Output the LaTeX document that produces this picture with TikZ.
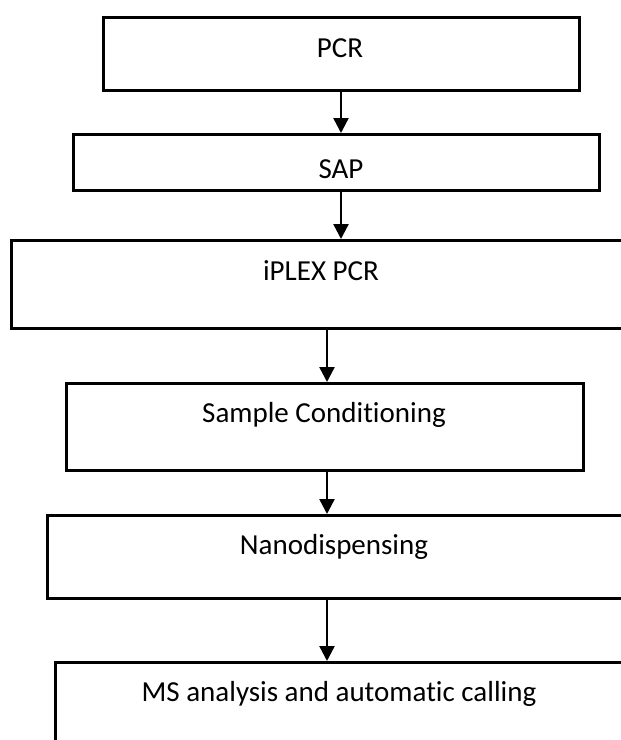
\documentclass[tikz,border=0pt]{standalone}
\usepackage{fontspec}
\setmainfont{Carlito}[RawFeature=-liga]
\usetikzlibrary{arrows.meta}

\tikzset{
	stepbox/.style={draw=black, line width=2.8pt, rectangle, anchor=north west, inner sep=0pt},
	steptext/.style={anchor=base, inner sep=0pt, font=\fontsize{29}{35}\selectfont},
	flow/.style={line width=2.4pt, -{Triangle[length=15pt, width=15pt]}}
}

\begin{document}
\begin{tikzpicture}[x=1pt, y=-1pt]
			%%%%% START %%%%%
			\useasboundingbox (0, 0) rectangle (621, 740);
			\clip (0, 0) rectangle (621, 740);
			
			% the six steps, top to bottom
			\node[stepbox, minimum width=476pt, minimum height=73pt] (pcr) at (102, 16) {};
			\node[stepbox, minimum width=526pt, minimum height=56pt] (sap) at (72, 133) {};
			\node[stepbox, minimum width=640pt, minimum height=88pt] (iplex) at (10, 239) {};
			\node[stepbox, minimum width=517pt, minimum height=87pt] (cond) at (65, 382) {};
			\node[stepbox, minimum width=600pt, minimum height=83pt] (nano) at (46, 514) {};
			\node[stepbox, minimum width=600pt, minimum height=110pt] (ms) at (54, 661) {};
			
			\node[steptext] (pcrtxt) at (340, 57) {PCR};
			\node[steptext] (saptxt) at (341, 178) {SAP};
			\node[steptext] (iplextxt) at (321, 280) {iPLEX PCR};
			\node[steptext] (condtxt) at (324, 422) {Sample Conditioning};
			\node[steptext] (nanotxt) at (334, 554) {Nanodispensing};
			\node[steptext] (mstxt) at (339, 701) {MS analysis and automatic calling};
			
			% arrows run down two spines
			\coordinate (upper) at (341, 0);
			\coordinate (lower) at (327, 0);
			
			\draw[flow] (pcr.south -| upper) -- (sap.north -| upper);
			\draw[flow] (sap.south -| upper) -- (iplex.north -| upper);
			\draw[flow] (iplex.south -| lower) -- (cond.north -| lower);
			\draw[flow] (cond.south -| lower) -- (nano.north -| lower);
			\draw[flow] (nano.south -| lower) -- (ms.north -| lower);
			
			%%%%% END %%%%%
\end{tikzpicture}
\end{document}
